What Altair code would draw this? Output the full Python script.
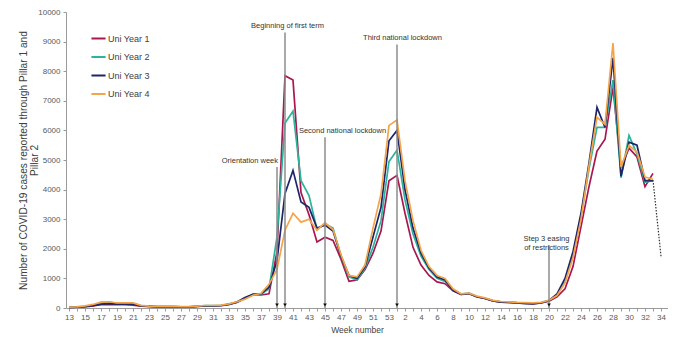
import json
import altair as alt
import pandas as pd

# Week labels along the x axis (2020 weeks 13-53, then 2021 weeks 1-34)
weeks = list(range(13, 54)) + list(range(1, 35))

series_names = ["Uni Year 1", "Uni Year 2", "Uni Year 3", "Uni Year 4"]
series_colors = ["#A8174F", "#2BB39B", "#1E2568", "#F4A54C"]

# Weekly cases, week 13 (2020) .. week 33 (2021)
year1 = [20, 30, 40, 70, 110, 120, 110, 110, 100, 60, 50, 40, 40, 40, 30, 30, 50, 70, 70, 80, 120, 190, 320, 450, 440, 480,
         1900, 7850, 7700, 3900, 3150, 2230, 2390, 2280, 1650, 900, 950, 1300, 1850, 2600, 4300,
         4480, 3200, 2050, 1450, 1100, 880, 820, 580, 460, 480, 370, 320, 240, 200, 190, 170, 160, 150, 170, 230,
         380, 650, 1400, 2750, 4100, 5300, 5700, 7450, 4750, 5400, 5100, 4100, 4550]
year2 = [30, 40, 60, 100, 180, 200, 160, 160, 160, 80, 60, 50, 50, 50, 40, 40, 60, 80, 80, 90, 130, 200, 340, 470, 460, 650,
         2400, 6250, 6650, 4300, 3800, 2650, 2850, 2700, 1750, 1050, 950, 1350, 2050, 2950, 4950,
         5330, 3650, 2500, 1750, 1300, 1000, 900, 620, 470, 500, 390, 330, 250, 210, 200, 180, 170, 160, 180, 260,
         450, 900, 1800, 3100, 4700, 6100, 6100, 7700, 4400, 5830, 5200, 4250, 4300]
year3 = [20, 30, 50, 80, 130, 150, 130, 130, 130, 70, 55, 45, 45, 45, 35, 35, 55, 75, 75, 85, 125, 200, 350, 460, 480, 700,
         1600, 3870, 4650, 3580, 3400, 2700, 2800, 2600, 1750, 1100, 1000, 1400, 2400, 3400, 5650,
         6000, 4000, 2700, 1850, 1350, 1050, 950, 600, 460, 490, 380, 320, 240, 200, 190, 170, 150, 140, 170, 250,
         480, 1000, 1900, 3200, 4900, 6780, 6100, 8450, 4450, 5600, 5500, 4300, 4300]
year4 = [30, 40, 70, 120, 200, 210, 170, 170, 170, 90, 65, 55, 55, 55, 45, 45, 65, 85, 85, 95, 140, 210, 300, 430, 500, 800,
         1300, 2630, 3200, 2900, 3000, 2630, 2880, 2650, 1800, 1100, 1050, 1450, 2700, 3850, 6170,
         6350, 4300, 2950, 1950, 1400, 1100, 1000, 650, 480, 500, 400, 340, 260, 220, 210, 190, 180, 170, 190, 260,
         420, 850, 1700, 3000, 4800, 6450, 6200, 8950, 4760, 5490, 5270, 4420, 4350]

# Projection (dotted) from week 33 to week 34 of 2021
proj_index = [73, 74]
proj_values = [4320, 1750]

# Annotations: position in the week sequence, top of marker line (cases), text
annot_index = [26, 27, 32, 41, 60]
annot_tops = [4760, 9310, 5770, 8900, 2120]
annot_labels = ["Orientation week", "Beginning of first term", "Second national lockdown",
                "Third national lockdown", "Step 3 easing\nof restrictions"]

rows = []
for name, vals in zip(series_names, [year1, year2, year3, year4]):
    for i, v in enumerate(vals):
        rows.append({"idx": i, "week": weeks[i], "series": name, "cases": v})
df = pd.DataFrame(rows)
proj_df = pd.DataFrame({"idx": proj_index, "cases": proj_values})
annot_df = pd.DataFrame({"idx": annot_index, "top": annot_tops, "label": annot_labels,
                         "base": [0] * len(annot_index)})

FONT = "Liberation Sans"
label_expr = "datum.value % 2 == 0 ? " + json.dumps(weeks) + "[datum.value] : ''"

x_axis = alt.Axis(values=list(range(len(weeks))), labelExpr=label_expr,
                  labelOverlap=False, grid=False, tickSize=3, labelPadding=2,
                  title="Week number", titleFontSize=8.5, titleFontWeight="normal",
                  titleColor="#404040", titleX=291, titlePadding=4, titleFont=FONT)
x_scale = alt.Scale(domain=[-0.375, 74.875], nice=False, zero=False)
y_scale = alt.Scale(domain=[0, 10000], nice=False)
y_axis = alt.Axis(values=list(range(0, 10001, 1000)), format="d", grid=False, tickSize=3,
                  labelPadding=3,
                  title=["Number of COVID-19 cases reported through Pillar 1 and", "Pillar 2"],
                  titleFontSize=10.2, titleFontWeight="normal", titleColor="#404040",
                  titlePadding=-2, titleFont=FONT, titleLineHeight=11)


def xe(field="idx"):
    return alt.X(field + ":Q", scale=x_scale, axis=x_axis)


def ye(field):
    return alt.Y(field + ":Q", scale=y_scale, axis=y_axis)


lines = alt.Chart(df).mark_line(strokeWidth=1.7).encode(
    x=xe(),
    y=ye("cases"),
    color=alt.Color("series:N", scale=alt.Scale(domain=series_names, range=series_colors),
                    legend=alt.Legend(title=None, orient="none", legendX=24, legendY=18,
                                      symbolType="stroke", symbolSize=200, symbolStrokeWidth=2,
                                      labelFontSize=9, labelFont=FONT, labelColor="#404040",
                                      labelOffset=1, rowPadding=4.5)),
    detail="series:N",
)

proj = alt.Chart(proj_df).mark_line(strokeWidth=1.2, strokeDash=[1.5, 1.5], color="#333333").encode(
    x=xe(), y=ye("cases"))

rules = alt.Chart(annot_df).mark_rule(color="#8c8c8c", strokeWidth=1.5).encode(
    x=xe(), y=ye("top"), y2="base:Q")

arrows = alt.Chart(annot_df).mark_point(shape="triangle-down", filled=True, size=14,
                                        color="#111111", opacity=1, yOffset=-3).encode(
    x=xe(), y=ye("base"))

text_dx = [1, 2.5, 17.5, 5.5, -2.5]
text_align = ["right", "center", "center", "center", "center"]
texts = []
for k in range(len(annot_labels)):
    texts.append(
        alt.Chart(annot_df.iloc[[k]]).mark_text(
            fontSize=7.5, font=FONT, color="#333333", align=text_align[k], baseline="bottom",
            dx=text_dx[k], dy=-2.5, lineBreak="\n", lineHeight=9
        ).encode(x=xe(), y=ye("top"), text="label:N")
    )

chart = alt.layer(lines, rules, arrows, proj, *texts).properties(
    width=602, height=296,
    autosize=alt.AutoSizeParams(type="none"),
    padding={"left": 58, "top": 4, "right": 0, "bottom": 29},
).configure_view(stroke=None).configure_axis(
    domainColor="#9a9a9a", tickColor="#9a9a9a", labelColor="#595959",
    labelFont=FONT, labelFontSize=8,
)

chart.save("out.html", embed_options={"renderer": "svg", "actions": False})
